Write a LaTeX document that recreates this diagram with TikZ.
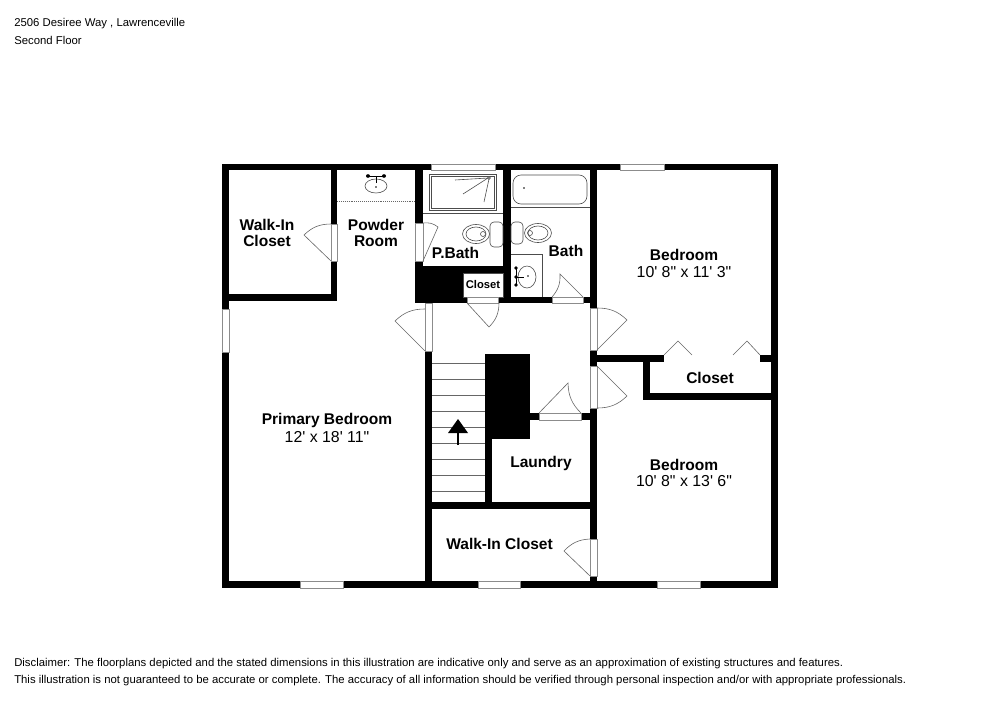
\documentclass[tikz,border=0pt]{standalone}
\usepackage{fontspec}
\setmainfont{Liberation Sans}
\newfontfamily\sizefont{Liberation Sans}
\usepackage{tikz}
\usetikzlibrary{arrows.meta,positioning,calc}

% wall block, given by two corners
\newcommand{\wallbox}[2]{\fill[black] (#1) rectangle (#2);}
% window or door gap in a wall
\newcommand{\gapbox}[2]{\draw[gapline] (#1) rectangle (#2);}
% door leaf: hinge, tip, end of the swing
\newcommand{\doorleaf}[4][left]{\draw[thinline] (#2) -- (#3) to[bend #1=22] (#4);}

\begin{document}
\begin{tikzpicture}[
x=0.75pt, y=-0.75pt,
thinline/.style={draw=black!60, line width=0.45pt},
fixture/.style={draw=black!70, line width=0.45pt},
gapline/.style={draw=black!45, fill=white, line width=0.5pt},
roomlabel/.style={font=\bfseries\fontsize{11.65}{12}\selectfont, align=center, inner sep=0pt},
sizelabel/.style={font=\sizefont\fontsize{11.9}{12}\selectfont, inner sep=0pt},
pagetext/.style={font=\fontsize{#1}{10}\selectfont, anchor=west, inner sep=0pt},
]
\useasboundingbox (0,0) rectangle (1000,707);

% outer walls
\wallbox{222,164}{778,170}
\wallbox{222,581}{778,588}
\wallbox{222,164}{229,588}
\wallbox{771,164}{778,588}

% inner walls
\wallbox{331,164}{337,301}
\wallbox{222,294}{337,301}
\wallbox{415,164}{423,303}
\wallbox{425,297}{432,581}
\wallbox{415,266}{503,303}
\wallbox{503,164}{511,303}
\wallbox{503,297}{597,303}
\wallbox{590,164}{597,588}
\wallbox{590,355}{664,362}
\wallbox{760,355}{771,362}
\wallbox{643,355}{650,400}
\wallbox{643,393}{771,400}
\wallbox{425,502}{597,509}
\wallbox{485,354}{530,439}
\wallbox{485,439}{492,502}
\wallbox{530,413}{597,420}

% small closet
\draw[fixture, fill=white] (463,273) rectangle (503,297);

% windows
\foreach \xa/\xb in {431/495, 620/664} {
  \gapbox{\xa,164}{\xb,170}
}
\foreach \xa/\xb in {300/343, 478/520, 657/700} {
  \gapbox{\xa,581}{\xb,588}
}
\gapbox{222,309}{229,352}

% door gaps
\gapbox{331,224}{337,261}
\gapbox{415,223}{423,261}
\gapbox{467,297}{498,303}
\gapbox{552,297}{583,303}
\gapbox{425,303}{432,351}
\gapbox{590,308}{597,350}
\gapbox{590,366}{597,408}
\gapbox{539,413}{581,420}
\gapbox{590,539}{597,576}

% door leaves
\doorleaf[left]{331,261}{304,235}{331,224}
\doorleaf[right]{423,261}{438,227}{423,223}
\doorleaf[right]{467,303}{489,327}{499,303}
\doorleaf[left]{583,297}{560,274}{552,297}
\doorleaf[left]{425,351}{395,321}{425,309}
\doorleaf[right]{597,350}{627,320}{597,308}
\doorleaf[left]{597,366}{627,396}{597,408}
\doorleaf[right]{539,413}{568,383}{581,413}
\doorleaf[left]{590,576}{564,551}{590,539}

% closet bifold doors
\draw[thinline] (664,355) -- (678,341) -- (692,355);
\draw[thinline] (733,355) -- (747,341) -- (760,355);

% stairs
\foreach \ty in {363,379,...,491} {
  \draw[thinline] (432,\ty) -- (485,\ty);
}
\draw[black, line width=1.6pt] (458,445) -- (458,431);
\fill[black] (458,419) -- (468,433) -- (448,433) -- cycle;

% powder room counter and sink
\draw[thinline, densely dotted] (337,201) -- (415,201);
\draw[fixture] (376,186) ellipse (11 and 7);
\draw[black, line width=0.7pt] (369,176) -- (383,176) (376,176) -- (376,183);
\fill[black] (368,176) ellipse (2 and 1.8) (384,176) ellipse (2 and 1.8) (376,187) circle (0.9);

% shower
\draw[fixture, line width=0.6pt] (429,174) rectangle (496,210);
\draw[fixture] (431,176) rectangle (494,208);
\draw[fixture] (423,213) -- (503,213);
\draw[fixture] (455,180) -- (488,178) (463,194) -- (488,178) (484,202) -- (489,179);
\draw[fixture, fill=white] (489,178) circle (1.4);

% toilets
\draw[fixture, rounded corners=3pt] (490,222) rectangle (503,247);
\draw[fixture] (476,234) ellipse (13.5 and 9.5);
\draw[fixture] (476,234) ellipse (10 and 7);
\draw[fixture] (483,234) circle (2.5);
\draw[fixture, rounded corners=3pt] (511,222) rectangle (523,244);
\draw[fixture] (538,233) ellipse (13.5 and 9.5);
\draw[fixture] (538,233) ellipse (10 and 7);
\draw[fixture] (530,233) circle (2.5);

% tub
\draw[fixture, rounded corners=6pt] (513,175) rectangle (587,204);
\draw[fixture] (511,207) -- (590,207);
\fill[black] (524,188) circle (0.9);

% bath sink
\draw[fixture] (511,254) -- (542,254) -- (542,297);
\draw[fixture] (527,277) ellipse (9 and 11);
\draw[black, line width=0.7pt] (516,269) -- (516,285) (516,277) -- (524,277);
\fill[black] (516,268) circle (1.9) (516,277) circle (1.9) (516,285) circle (1.9) (528,276) circle (0.9);

% room labels
\node[roomlabel] (walkinA) at (267,233) {Walk-In\\Closet};
\node[roomlabel] (powder) at (376,233) {Powder\\Room};
\node[roomlabel] (pbath) at (455.5,253) {P.Bath};
\node[roomlabel, font=\bfseries\fontsize{8.4}{10}\selectfont] (closetA) at (483,284) {Closet};
\node[roomlabel] (bath) at (566,251) {Bath};
\node[roomlabel] (bedroomA) at (684,255) {Bedroom};
\node[sizelabel] (sizeA) at (684,272.5) {10' 8" x 11' 3"};
\node[roomlabel] (closetB) at (710,378) {Closet};
\node[roomlabel] (primary) at (327,420.5) {Primary Bedroom};
\node[sizelabel] (sizeB) at (327,437) {12' x 18' 11"};
\node[roomlabel] (laundry) at (541,463) {Laundry};
\node[roomlabel] (bedroomB) at (684,465) {Bedroom};
\node[sizelabel] (sizeC) at (684,481.5) {10' 8" x 13' 6"};
\node[roomlabel] (walkinB) at (499.5,544) {Walk-In Closet};

% page text
\node[pagetext=8.5] (address) at (14,23.5) {2506 Desiree Way , Lawrenceville};
\node[pagetext=8.5] (floor) at (14,40) {Second Floor};
\node[pagetext=8.5] (discA) at (14,664) {Disclaimer: The floorplans depicted and the stated dimensions in this illustration are indicative only and serve as an approximation of existing structures and features.};
\node[pagetext=8.5] (discB) at (14,681) {This illustration is not guaranteed to be accurate or complete. The accuracy of all information should be verified through personal inspection and/or with appropriate professionals.};
\end{tikzpicture}
\end{document}
